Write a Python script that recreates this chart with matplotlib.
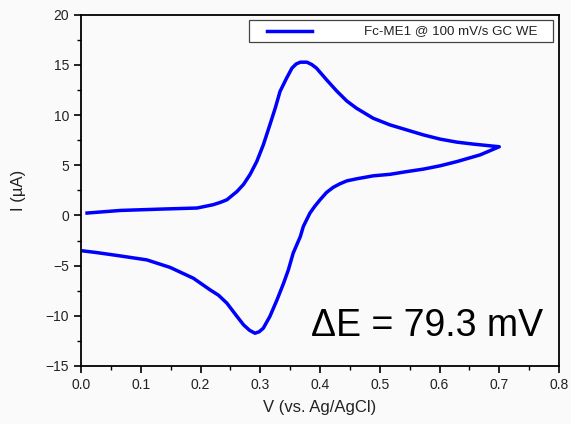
import matplotlib.pyplot as plt
from matplotlib.lines import Line2D
from matplotlib.patches import Rectangle
from matplotlib.ticker import MultipleLocator

plt.rcParams['font.family'] = ['Liberation Sans', 'DejaVu Sans']

# anodic sweep, 0 -> 0.7 V
v_fwd = [0.010, 0.066, 0.137, 0.194, 0.221, 0.233, 0.244, 0.261, 0.272, 0.283,
         0.294, 0.305, 0.316, 0.325, 0.333, 0.344, 0.353, 0.360, 0.367, 0.378,
         0.386, 0.394, 0.411, 0.428, 0.445, 0.461, 0.489, 0.517, 0.545, 0.573,
         0.601, 0.629, 0.657, 0.685, 0.700]
i_fwd = [0.24, 0.50, 0.64, 0.74, 1.07, 1.30, 1.56, 2.39, 3.10, 4.10,
         5.37, 7.03, 9.03, 10.70, 12.36, 13.69, 14.69, 15.10, 15.28, 15.28,
         15.05, 14.69, 13.52, 12.40, 11.40, 10.69, 9.69, 9.03, 8.53, 8.03,
         7.61, 7.31, 7.11, 6.94, 6.85]

# cathodic sweep, 0.7 -> 0 V
v_rev = [0.668, 0.629, 0.601, 0.573, 0.545, 0.517, 0.489, 0.461, 0.445, 0.433,
         0.422, 0.411, 0.400, 0.391, 0.383, 0.372, 0.367, 0.355, 0.347, 0.339,
         0.328, 0.316, 0.305, 0.298, 0.291, 0.282, 0.272, 0.261, 0.244, 0.230,
         0.216, 0.188, 0.149, 0.110, 0.065, 0.026, 0.004]
i_rev = [6.04, 5.37, 4.95, 4.62, 4.37, 4.10, 3.95, 3.65, 3.45, 3.15,
         2.80, 2.30, 1.56, 0.90, 0.23, -1.10, -2.10, -3.76, -5.42, -6.75,
         -8.41, -10.07, -11.24, -11.60, -11.74, -11.45, -10.91, -10.07, -8.74, -7.95,
         -7.42, -6.26, -5.18, -4.43, -4.03, -3.70, -3.54]

fig = plt.figure(figsize=(5.71, 4.24), dpi=100, facecolor='#fafafa')
ax = fig.add_axes([0.142, 0.137, 0.837, 0.828], facecolor='#fafafa')

ax.plot(v_fwd + v_rev, i_fwd + i_rev, color='#0000ff', lw=2.5)

ax.set_xlim(0, 0.8)
ax.set_ylim(-15, 20)
ax.xaxis.set_major_locator(MultipleLocator(0.1))
ax.xaxis.set_minor_locator(MultipleLocator(0.05))
ax.yaxis.set_major_locator(MultipleLocator(5))
ax.yaxis.set_minor_locator(MultipleLocator(2.5))
ax.xaxis.set_major_formatter(lambda x, p: f'{x:.1f}')
ax.tick_params(which='major', direction='out', length=5, width=1.2,
               labelsize=10, colors='black', labelcolor='#222222')
ax.tick_params(which='minor', direction='out', length=3, width=1.0)
for s in ax.spines.values():
    s.set_linewidth(1.3)

ax.set_xlabel('V (vs. Ag/AgCl)', fontsize=12, color='#222222', labelpad=6)
ax.set_ylabel('I (\u00b5A)', fontsize=12, color='#222222', labelpad=14)

# legend box
ax.add_patch(Rectangle((0.351, 0.923), 0.636, 0.063, transform=ax.transAxes,
                       facecolor='white', edgecolor='#444444', lw=0.9, zorder=5))
ax.add_line(Line2D([0.389, 0.483], [0.954, 0.954], transform=ax.transAxes,
                   color='#0000ff', lw=2.5, zorder=6))
ax.text(0.954, 0.954, 'Fc-ME1 @ 100 mV/s GC WE', transform=ax.transAxes,
        fontsize=9.6, ha='right', va='center', color='#222222', zorder=6)

ax.text(0.773, -12.0, '\u0394E = 79.3 mV', fontsize=27, ha='right',
        va='baseline', color='black')

fig.savefig('out.png', dpi=100, facecolor=fig.get_facecolor())
